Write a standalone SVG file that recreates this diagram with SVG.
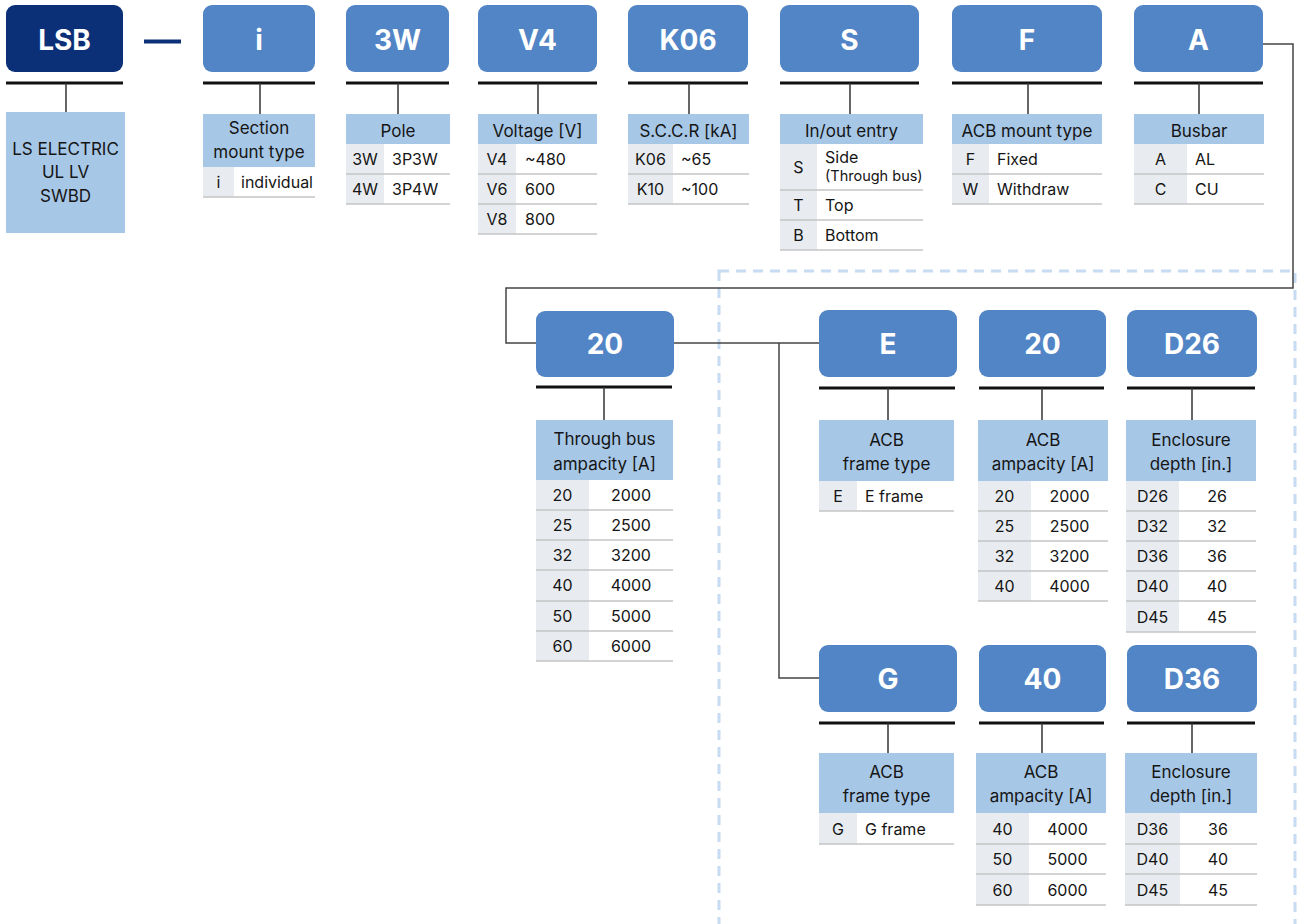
<svg xmlns="http://www.w3.org/2000/svg" width="1298" height="924" viewBox="0 0 1298 924">
<style>
text{font-family:Inter,"Noto Sans","Liberation Sans",sans-serif;fill:#151515}
.code{fill:#5285c5}
.dark{fill:#0b3077}
.ct{font-size:28px;font-weight:700;fill:#fff;text-anchor:middle}
.bar{stroke:#111;stroke-width:3}
.vl{stroke:#333;stroke-width:1.5}
.hd{fill:#a7c7e6}
.ht{font-size:17px;text-anchor:middle}
.key{fill:#e8ecf0}
.rl{stroke:#c4c4c4;stroke-width:1.6}
.rt{font-size:16px}
.m{text-anchor:middle}
.cn{fill:none;stroke:#444;stroke-width:1.5}
.dash{fill:none;stroke:#c7dcf2;stroke-width:3;stroke-dasharray:10 7}
</style>
<rect class="dash" x="719" y="271" width="576" height="670"/>
<g id="connectors">
<line x1="144" y1="41.5" x2="181" y2="41.5" stroke="#0b3077" stroke-width="4"/>
<polyline class="cn" points="1263,44 1293,44 1293,288 506,288 506,343 536,343"/>
<polyline class="cn" points="674,343 819,343"/>
<polyline class="cn" points="779,343 779,678 819,678"/>
</g>
<g id="node-lsb">
<rect class="dark" x="6" y="5" width="117" height="67" rx="9"/>
<text class="ct" x="64.5" y="50">LSB</text>
<line class="bar" x1="6" y1="83" x2="123" y2="83"/>
<line class="vl" x1="66" y1="83" x2="66" y2="112"/>
<rect class="hd" x="6" y="112" width="119" height="121"/>
<text class="ht" x="65.5" y="155">LS ELECTRIC</text>
<text class="ht" x="65.5" y="178">UL LV</text>
<text class="ht" x="65.5" y="202">SWBD</text>
</g>
<g id="node-i">
<rect class="code" x="203" y="5" width="112" height="67" rx="9"/>
<text class="ct" x="259" y="50">i</text>
<line class="bar" x1="203" y1="83" x2="315" y2="83"/>
<line class="vl" x1="260" y1="83" x2="260" y2="114"/>
<rect class="hd" x="203" y="114" width="112" height="53"/>
<text class="ht" x="259" y="134">Section</text>
<text class="ht" x="259" y="158">mount type</text>
<rect class="key" x="203" y="167" width="31" height="30"/>
<line class="rl" x1="203" y1="197" x2="315" y2="197"/>
<text class="rt m" x="218.5" y="188">i</text>
<text class="rt" x="241" y="188">individual</text>
</g>
<g id="node-3w">
<rect class="code" x="346" y="5" width="103" height="67" rx="9"/>
<text class="ct" x="397.5" y="50">3W</text>
<line class="bar" x1="346" y1="83" x2="449" y2="83"/>
<line class="vl" x1="398" y1="83" x2="398" y2="114"/>
<rect class="hd" x="346" y="114" width="104" height="30"/>
<text class="ht" x="398" y="137">Pole</text>
<rect class="key" x="346" y="144" width="38" height="60"/>
<line class="rl" x1="346" y1="174" x2="450" y2="174"/>
<line class="rl" x1="346" y1="204" x2="450" y2="204"/>
<text class="rt m" x="365" y="165">3W</text><text class="rt" x="392" y="165">3P3W</text>
<text class="rt m" x="365" y="195">4W</text><text class="rt" x="392" y="195">3P4W</text>
</g>
<g id="node-v4">
<rect class="code" x="478" y="5" width="119" height="67" rx="9"/>
<text class="ct" x="537.5" y="50">V4</text>
<line class="bar" x1="478" y1="83" x2="597" y2="83"/>
<line class="vl" x1="538" y1="83" x2="538" y2="114"/>
<rect class="hd" x="478" y="114" width="119" height="30"/>
<text class="ht" x="537.5" y="137">Voltage [V]</text>
<rect class="key" x="478" y="144" width="38" height="90"/>
<line class="rl" x1="478" y1="174" x2="597" y2="174"/>
<line class="rl" x1="478" y1="204" x2="597" y2="204"/>
<line class="rl" x1="478" y1="234" x2="597" y2="234"/>
<text class="rt m" x="497" y="165">V4</text><text class="rt" x="525" y="165">~480</text>
<text class="rt m" x="497" y="195">V6</text><text class="rt" x="525" y="195">600</text>
<text class="rt m" x="497" y="225">V8</text><text class="rt" x="525" y="225">800</text>
</g>
<g id="node-k06">
<rect class="code" x="628" y="5" width="120" height="67" rx="9"/>
<text class="ct" x="688" y="50">K06</text>
<line class="bar" x1="628" y1="83" x2="748" y2="83"/>
<line class="vl" x1="689" y1="83" x2="689" y2="114"/>
<rect class="hd" x="628" y="114" width="121" height="30"/>
<text class="ht" x="688.5" y="137">S.C.C.R [kA]</text>
<rect class="key" x="628" y="144" width="45" height="60"/>
<line class="rl" x1="628" y1="174" x2="749" y2="174"/>
<line class="rl" x1="628" y1="204" x2="749" y2="204"/>
<text class="rt m" x="650.5" y="165">K06</text><text class="rt" x="681" y="165">~65</text>
<text class="rt m" x="650.5" y="195">K10</text><text class="rt" x="681" y="195">~100</text>
</g>
<g id="node-s">
<rect class="code" x="780" y="5" width="139" height="67" rx="9"/>
<text class="ct" x="849.5" y="50">S</text>
<line class="bar" x1="780" y1="83" x2="919" y2="83"/>
<line class="vl" x1="850" y1="83" x2="850" y2="114"/>
<rect class="hd" x="780" y="114" width="143" height="30"/>
<text class="ht" x="851.5" y="137">In/out entry</text>
<rect class="key" x="780" y="144" width="37" height="106"/>
<line class="rl" x1="780" y1="190" x2="923" y2="190"/>
<line class="rl" x1="780" y1="220" x2="923" y2="220"/>
<line class="rl" x1="780" y1="250" x2="923" y2="250"/>
<text class="rt m" x="798.5" y="173">S</text><text class="rt" x="825" y="163">Side</text>
<text x="825" y="181" font-size="14.5px">(Through bus)</text>
<text class="rt m" x="798.5" y="211">T</text><text class="rt" x="825" y="211">Top</text>
<text class="rt m" x="798.5" y="241">B</text><text class="rt" x="825" y="241">Bottom</text>
</g>
<g id="node-f">
<rect class="code" x="952" y="5" width="150" height="67" rx="9"/>
<text class="ct" x="1027" y="50">F</text>
<line class="bar" x1="952" y1="83" x2="1102" y2="83"/>
<line class="vl" x1="1028" y1="83" x2="1028" y2="114"/>
<rect class="hd" x="952" y="114" width="150" height="30"/>
<text class="ht" x="1027" y="137">ACB mount type</text>
<rect class="key" x="952" y="144" width="37" height="60"/>
<line class="rl" x1="952" y1="174" x2="1102" y2="174"/>
<line class="rl" x1="952" y1="204" x2="1102" y2="204"/>
<text class="rt m" x="970.5" y="165">F</text><text class="rt" x="997" y="165">Fixed</text>
<text class="rt m" x="970.5" y="195">W</text><text class="rt" x="997" y="195">Withdraw</text>
</g>
<g id="node-a">
<rect class="code" x="1134" y="5" width="129" height="67" rx="9"/>
<text class="ct" x="1198.5" y="50">A</text>
<line class="bar" x1="1134" y1="83" x2="1263" y2="83"/>
<line class="vl" x1="1199" y1="83" x2="1199" y2="114"/>
<rect class="hd" x="1134" y="114" width="130" height="30"/>
<text class="ht" x="1199" y="137">Busbar</text>
<rect class="key" x="1134" y="144" width="53" height="60"/>
<line class="rl" x1="1134" y1="174" x2="1264" y2="174"/>
<line class="rl" x1="1134" y1="204" x2="1264" y2="204"/>
<text class="rt m" x="1160.5" y="165">A</text><text class="rt" x="1195" y="165">AL</text>
<text class="rt m" x="1160.5" y="195">C</text><text class="rt" x="1195" y="195">CU</text>
</g>
<g id="node-20-bus">
<rect class="code" x="536" y="311" width="138" height="66" rx="9"/>
<text class="ct" x="605" y="354">20</text>
<line class="bar" x1="536" y1="387" x2="672" y2="387"/>
<line class="vl" x1="604" y1="387" x2="604" y2="420"/>
<rect class="hd" x="536" y="420" width="137" height="60"/>
<text class="ht" x="604.5" y="445">Through bus</text>
<text class="ht" x="604.5" y="470">ampacity [A]</text>
<rect class="key" x="536" y="480" width="53" height="181"/>
<line class="rl" x1="536" y1="510" x2="673" y2="510"/>
<line class="rl" x1="536" y1="540" x2="673" y2="540"/>
<line class="rl" x1="536" y1="570" x2="673" y2="570"/>
<line class="rl" x1="536" y1="601" x2="673" y2="601"/>
<line class="rl" x1="536" y1="631" x2="673" y2="631"/>
<line class="rl" x1="536" y1="661" x2="673" y2="661"/>
<g class="rt m">
<text x="562.5" y="501">20</text><text x="631" y="501">2000</text>
<text x="562.5" y="531">25</text><text x="631" y="531">2500</text>
<text x="562.5" y="561">32</text><text x="631" y="561">3200</text>
<text x="562.5" y="591">40</text><text x="631" y="591">4000</text>
<text x="562.5" y="622">50</text><text x="631" y="622">5000</text>
<text x="562.5" y="652">60</text><text x="631" y="652">6000</text>
</g>
</g>
<g id="node-e">
<rect class="code" x="819" y="310" width="138" height="67" rx="9"/>
<text class="ct" x="888" y="354">E</text>
<line class="bar" x1="819" y1="388" x2="955" y2="388"/>
<line class="vl" x1="888" y1="388" x2="888" y2="420"/>
<rect class="hd" x="819" y="420" width="135" height="61"/>
<text class="ht" x="886.5" y="446">ACB</text>
<text class="ht" x="886.5" y="470">frame type</text>
<rect class="key" x="819" y="481" width="38" height="30"/>
<line class="rl" x1="819" y1="511" x2="954" y2="511"/>
<text class="rt m" x="838" y="502">E</text><text class="rt" x="865" y="502">E frame</text>
</g>
<g id="node-20-acb">
<rect class="code" x="979" y="310" width="127" height="67" rx="9"/>
<text class="ct" x="1042.5" y="354">20</text>
<line class="bar" x1="979" y1="388" x2="1104" y2="388"/>
<line class="vl" x1="1042" y1="388" x2="1042" y2="420"/>
<rect class="hd" x="978" y="420" width="130" height="61"/>
<text class="ht" x="1043" y="446">ACB</text>
<text class="ht" x="1043" y="470">ampacity [A]</text>
<rect class="key" x="978" y="481" width="53" height="120"/>
<line class="rl" x1="978" y1="511" x2="1108" y2="511"/>
<line class="rl" x1="978" y1="541" x2="1108" y2="541"/>
<line class="rl" x1="978" y1="571" x2="1108" y2="571"/>
<line class="rl" x1="978" y1="601" x2="1108" y2="601"/>
<g class="rt m">
<text x="1004.5" y="502">20</text><text x="1069.5" y="502">2000</text>
<text x="1004.5" y="532">25</text><text x="1069.5" y="532">2500</text>
<text x="1004.5" y="562">32</text><text x="1069.5" y="562">3200</text>
<text x="1004.5" y="592">40</text><text x="1069.5" y="592">4000</text>
</g>
</g>
<g id="node-d26">
<rect class="code" x="1127" y="310" width="130" height="67" rx="9"/>
<text class="ct" x="1192" y="354">D26</text>
<line class="bar" x1="1127" y1="388" x2="1255" y2="388"/>
<line class="vl" x1="1192" y1="388" x2="1192" y2="420"/>
<rect class="hd" x="1126" y="420" width="130" height="61"/>
<text class="ht" x="1191" y="446">Enclosure</text>
<text class="ht" x="1191" y="470">depth [in.]</text>
<rect class="key" x="1126" y="481" width="53" height="151"/>
<line class="rl" x1="1126" y1="511" x2="1256" y2="511"/>
<line class="rl" x1="1126" y1="541" x2="1256" y2="541"/>
<line class="rl" x1="1126" y1="571" x2="1256" y2="571"/>
<line class="rl" x1="1126" y1="601" x2="1256" y2="601"/>
<line class="rl" x1="1126" y1="632" x2="1256" y2="632"/>
<g class="rt m">
<text x="1152.5" y="502">D26</text><text x="1217" y="502">26</text>
<text x="1152.5" y="532">D32</text><text x="1217" y="532">32</text>
<text x="1152.5" y="562">D36</text><text x="1217" y="562">36</text>
<text x="1152.5" y="592">D40</text><text x="1217" y="592">40</text>
<text x="1152.5" y="623">D45</text><text x="1217" y="623">45</text>
</g>
</g>
<g id="node-g">
<rect class="code" x="819" y="645" width="138" height="67" rx="9"/>
<text class="ct" x="888" y="689">G</text>
<line class="bar" x1="819" y1="723" x2="955" y2="723"/>
<line class="vl" x1="888" y1="723" x2="888" y2="753"/>
<rect class="hd" x="819" y="753" width="135" height="60"/>
<text class="ht" x="886.5" y="778">ACB</text>
<text class="ht" x="886.5" y="802">frame type</text>
<rect class="key" x="819" y="813" width="38" height="31"/>
<line class="rl" x1="819" y1="844" x2="954" y2="844"/>
<text class="rt m" x="838" y="835">G</text><text class="rt" x="865" y="835">G frame</text>
</g>
<g id="node-40-acb">
<rect class="code" x="979" y="645" width="127" height="67" rx="9"/>
<text class="ct" x="1042.5" y="689">40</text>
<line class="bar" x1="979" y1="723" x2="1104" y2="723"/>
<line class="vl" x1="1042" y1="723" x2="1042" y2="753"/>
<rect class="hd" x="976" y="753" width="130" height="60"/>
<text class="ht" x="1041" y="778">ACB</text>
<text class="ht" x="1041" y="802">ampacity [A]</text>
<rect class="key" x="976" y="813" width="53" height="92"/>
<line class="rl" x1="976" y1="844" x2="1106" y2="844"/>
<line class="rl" x1="976" y1="874" x2="1106" y2="874"/>
<line class="rl" x1="976" y1="905" x2="1106" y2="905"/>
<g class="rt m">
<text x="1002.5" y="835">40</text><text x="1067.5" y="835">4000</text>
<text x="1002.5" y="865">50</text><text x="1067.5" y="865">5000</text>
<text x="1002.5" y="896">60</text><text x="1067.5" y="896">6000</text>
</g>
</g>
<g id="node-d36">
<rect class="code" x="1127" y="645" width="130" height="67" rx="9"/>
<text class="ct" x="1192" y="689">D36</text>
<line class="bar" x1="1127" y1="723" x2="1255" y2="723"/>
<line class="vl" x1="1192" y1="723" x2="1192" y2="753"/>
<rect class="hd" x="1125" y="753" width="132" height="60"/>
<text class="ht" x="1191" y="778">Enclosure</text>
<text class="ht" x="1191" y="802">depth [in.]</text>
<rect class="key" x="1125" y="813" width="55" height="92"/>
<line class="rl" x1="1125" y1="844" x2="1257" y2="844"/>
<line class="rl" x1="1125" y1="874" x2="1257" y2="874"/>
<line class="rl" x1="1125" y1="905" x2="1257" y2="905"/>
<g class="rt m">
<text x="1152.5" y="835">D36</text><text x="1218" y="835">36</text>
<text x="1152.5" y="865">D40</text><text x="1218" y="865">40</text>
<text x="1152.5" y="896">D45</text><text x="1218" y="896">45</text>
</g>
</g>
</svg>
